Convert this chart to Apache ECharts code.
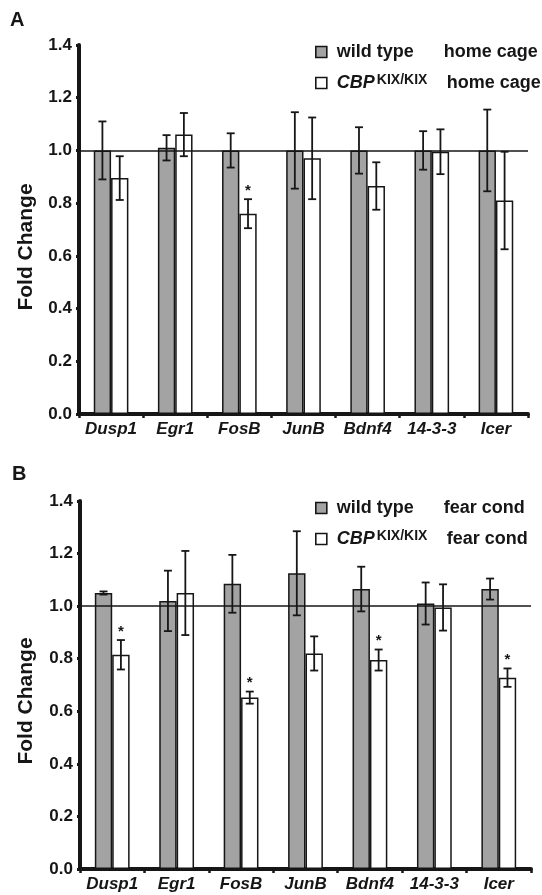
<!DOCTYPE html>
<html>
<head>
<meta charset="utf-8">
<script src="https://cdn.jsdelivr.net/npm/echarts@6/dist/echarts.min.js"></script>
<style>html,body{margin:0;padding:0;background:#fff}#c{width:542px;height:895px}</style>
</head>
<body>
<div id="c"></div>
<script>
// ---- data ----
const categories = ['Dusp1', 'Egr1', 'FosB', 'JunB', 'Bdnf4', '14-3-3', 'Icer'];
// Panel A: home cage
const wtA     = [1.00, 1.01, 1.00, 1.00, 1.00, 1.00, 1.00];
const wtAErr  = [0.11, 0.048, 0.065, 0.145, 0.088, 0.073, 0.155];
const kixA    = [0.895, 1.06, 0.76, 0.97, 0.865, 0.995, 0.81];
const kixAErr = [0.083, 0.082, 0.055, 0.155, 0.09, 0.085, 0.185];
const sigA    = [0, 0, 1, 0, 0, 0, 0];
// Panel B: fear conditioning
const wtB     = [1.05, 1.02, 1.085, 1.125, 1.065, 1.01, 1.065];
const wtBErr  = [0.006, 0.115, 0.11, 0.16, 0.085, 0.08, 0.04];
const kixB    = [0.815, 1.05, 0.652, 0.82, 0.795, 0.995, 0.728];
const kixBErr = [0.056, 0.16, 0.023, 0.065, 0.04, 0.088, 0.035];
const sigB    = [1, 0, 1, 0, 1, 0, 1];
const yTickLabels = ['0.0', '0.2', '0.4', '0.6', '0.8', '1.0', '1.2', '1.4'];

const FONT = '"Liberation Sans", Arial, Helvetica, sans-serif';
const GRAY = '#a3a3a3';
const INK = '#161616';
const BARW = 0.27;

function errRender(side) {
  return function (params, api) {
    const i = api.value(0), v = api.value(1), e = api.value(2), s = api.value(3);
    const band = api.size([1, 0])[0];
    const bw = band * BARW;
    const x = api.coord([i, v])[0] + side * bw / 2;
    const yTop = api.coord([i, v + e])[1];
    const yBot = api.coord([i, v - e])[1];
    const cap = 4;
    const ls = { stroke: INK, lineWidth: 1.8 };
    const children = [
      { type: 'line', shape: { x1: x, y1: yTop, x2: x, y2: yBot }, style: ls },
      { type: 'line', shape: { x1: x - cap, y1: yTop, x2: x + cap, y2: yTop }, style: ls },
      { type: 'line', shape: { x1: x - cap, y1: yBot, x2: x + cap, y2: yBot }, style: ls }
    ];
    if (s) {
      children.push({
        type: 'text', x: x, y: yTop - 1,
        style: { text: '*', align: 'center', verticalAlign: 'bottom',
                 fontSize: 15, fontWeight: 'bold', fontFamily: FONT, fill: INK }
      });
    }
    return { type: 'group', children: children };
  };
}

function errData(vals, errs, sigs) {
  return vals.map((v, i) => [i, v, errs[i], sigs ? sigs[i] : 0]);
}

function xAxisDef(gi) {
  return {
    type: 'category', gridIndex: gi, data: categories,
    axisLine: { lineStyle: { color: INK, width: 4 } },
    axisTick: { show: true, length: 4, lineStyle: { color: INK, width: 2.5 } },
    axisLabel: { interval: 0, color: INK, fontFamily: FONT, fontSize: 17, fontWeight: 'bold', fontStyle: 'italic', margin: 7 }
  };
}
function yAxisDef(gi) {
  return {
    type: 'value', gridIndex: gi, min: 0, max: 1.4, interval: 0.2,
    axisLine: { show: true, lineStyle: { color: INK, width: 4 } },
    axisTick: { show: true, length: 3, lineStyle: { color: INK, width: 3 } },
    splitLine: { show: false },
    axisLabel: { color: INK, fontFamily: FONT, fontSize: 17, fontWeight: 'bold', margin: 7,
                 formatter: (v) => yTickLabels[Math.round(v / 0.2)] }
  };
}

function barSeries(name, gi, data, fill, withLine) {
  const s = {
    type: 'bar', name: name, xAxisIndex: gi, yAxisIndex: gi, data: data,
    barWidth: (BARW * 100) + '%', barGap: '0%',
    itemStyle: { color: fill, borderColor: INK, borderWidth: 1.5 },
    emphasis: { disabled: true }, animation: false
  };
  if (withLine) {
    s.markLine = {
      silent: true, symbol: 'none', animation: false,
      label: { show: false },
      lineStyle: { color: INK, width: 1.6, type: 'solid' },
      data: [{ yAxis: 1.0 }]
    };
  }
  return s;
}
function errSeries(gi, data, side) {
  return {
    type: 'custom', xAxisIndex: gi, yAxisIndex: gi, data: data,
    encode: { x: 0, y: 1 }, renderItem: errRender(side), z: 5, animation: false, silent: true
  };
}

const rich = {
  a: { fontFamily: FONT, fontSize: 18, fontWeight: 'bold', color: INK, width: 107, padding: [0, 0, 0, 5], lineHeight: 20 },
  i: { fontFamily: FONT, fontSize: 18, fontWeight: 'bold', fontStyle: 'italic', color: INK, padding: [0, 0, 0, 5], lineHeight: 20 },
  s: { fontFamily: FONT, fontSize: 14, fontWeight: 'bold', color: INK, width: 70, padding: [0, 0, 0, 2], verticalAlign: 'top', lineHeight: 14 },
  c: { fontFamily: FONT, fontSize: 18, fontWeight: 'bold', color: INK, lineHeight: 20 }
};

function legendDef(top, names, ctx) {
  return {
    orient: 'vertical', left: 315, top: top, padding: 0, itemWidth: 11, itemHeight: 11, itemGap: 12,
    data: names, selectedMode: false, icon: 'rect',
    itemStyle: { borderColor: INK, borderWidth: 1.6 },
    formatter: (n) => n.indexOf('wt') === 0 ? '{a|wild type}{c|' + ctx + '}' : '{i|CBP}{s|KIX/KIX}{c|' + ctx + '}',
    textStyle: { rich: rich }
  };
}

const chart = echarts.init(document.getElementById('c'), null, { renderer: 'canvas' });
chart.setOption({
  backgroundColor: '#fff',
  animation: false,
  grid: [
    { left: 79, right: 14, top: 45, height: 369 },
    { left: 80, right: 11, top: 501, height: 368 }
  ],
  xAxis: [xAxisDef(0), xAxisDef(1)],
  yAxis: [yAxisDef(0), yAxisDef(1)],
  legend: [
    legendDef(43, ['wtA', 'kixA'], 'home cage'),
    legendDef(499, ['wtB', 'kixB'], 'fear cond')
  ],
  series: [
    barSeries('wtA', 0, wtA, GRAY, true),
    barSeries('kixA', 0, kixA, '#ffffff', false),
    errSeries(0, errData(wtA, wtAErr), -1),
    errSeries(0, errData(kixA, kixAErr, sigA), 1),
    barSeries('wtB', 1, wtB, GRAY, true),
    barSeries('kixB', 1, kixB, '#ffffff', false),
    errSeries(1, errData(wtB, wtBErr), -1),
    errSeries(1, errData(kixB, kixBErr, sigB), 1)
  ],
  graphic: [
    { type: 'text', left: 10, top: 10, style: { text: 'A', fontFamily: FONT, fontSize: 20, fontWeight: 'bold', fill: INK } },
    { type: 'text', left: 12, top: 464, style: { text: 'B', fontFamily: FONT, fontSize: 20, fontWeight: 'bold', fill: INK } },
    { type: 'text', x: 26, y: 247, rotation: Math.PI / 2,
      style: { text: 'Fold Change', fontFamily: FONT, fontSize: 21, fontWeight: 'bold', fill: INK, align: 'center', verticalAlign: 'middle' } },
    { type: 'text', x: 26, y: 701, rotation: Math.PI / 2,
      style: { text: 'Fold Change', fontFamily: FONT, fontSize: 21, fontWeight: 'bold', fill: INK, align: 'center', verticalAlign: 'middle' } }
  ]
});
</script>
</body>
</html>
